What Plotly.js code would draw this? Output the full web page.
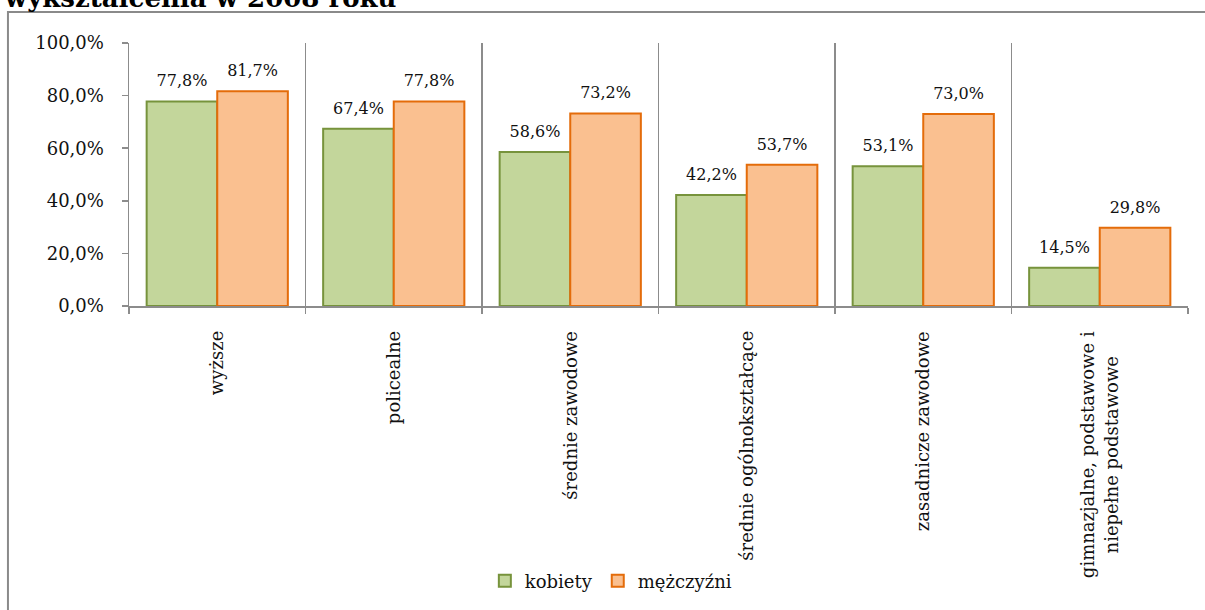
<!DOCTYPE html>
<html>
<head>
<meta charset="utf-8">
<script src="https://cdn.plot.ly/plotly-3.0.1.min.js"></script>
<style>
  html, body { margin: 0; padding: 0; background: #ffffff; }
  #chart { width: 1205px; height: 610px; }
</style>
</head>
<body>
<div id="chart"></div>
<script>
// Poziom wykształcenia (kategorie osi X)
const categories = [
  'wyższe',
  'policealne',
  'średnie zawodowe',
  'średnie ogólnokształcące',
  'zasadnicze zawodowe',
  'gimnazjalne, podstawowe i<br>niepełne podstawowe'
];

// Wartości w procentach
const kobiety = [77.8, 67.4, 58.6, 42.2, 53.1, 14.5];
const mezczyzni = [81.7, 77.8, 73.2, 53.7, 73.0, 29.8];

const seriesNames = ['kobiety', 'mężczyźni'];
const yTickValues = [0, 20, 40, 60, 80, 100];
const titleText = 'wykształcenia w 2008 roku';

const FONT = 'DejaVu Serif, Liberation Serif, serif';
const TEXT_COLOR = '#111111';
const AXIS_COLOR = '#8c8c8c';

// Format polski: przecinek dziesiętny i znak procentu
const pct = v => v.toFixed(1).replace('.', ',') + '%';
const yTickText = yTickValues.map(pct);

const styles = [
  { fill: '#C3D69B', edge: '#77933C' },
  { fill: '#FAC090', edge: '#E46C0A' }
];

const series = [kobiety, mezczyzni];

// Słupki
const barTraces = series.map((vals, i) => ({
  type: 'bar',
  name: seriesNames[i],
  x: categories,
  y: vals,
  marker: { color: styles[i].fill, line: { color: styles[i].edge, width: 2 } },
  hoverinfo: 'skip'
}));

// Etykiety wartości nad słupkami (niewidoczne znaczniki ustawiają odstęp)
const labelTraces = series.map((vals, i) => ({
  type: 'scatter',
  mode: 'markers+text',
  x: categories,
  y: vals,
  text: vals.map(pct),
  textposition: 'top center',
  textfont: { family: FONT, size: 16, color: TEXT_COLOR },
  marker: { size: 16, color: 'rgba(0,0,0,0)' },
  cliponaxis: false,
  showlegend: false,
  hoverinfo: 'skip'
}));

// Opisy kategorii pod osią
const categoryLabels = categories.map(c => ({
  xref: 'x', yref: 'paper',
  x: c, y: -0.087,
  xanchor: 'center', yanchor: 'top',
  text: c,
  textangle: -90,
  align: 'center',
  showarrow: false,
  font: { family: FONT, size: 18, color: TEXT_COLOR }
}));

const layout = {
  width: 1205,
  height: 610,
  margin: { l: 129, r: 17, t: 43, b: 303, pad: 0 },
  paper_bgcolor: '#ffffff',
  plot_bgcolor: '#ffffff',
  separators: ', ',
  showlegend: true,
  barmode: 'group',
  bargap: 0.2,
  bargroupgap: 0,
  scattermode: 'group',
  scattergap: 0.2,
  title: {
    text: '<b>' + titleText + '</b>',
    xref: 'container', yref: 'container',
    x: 0.004, xanchor: 'left',
    y: 0.989, yanchor: 'bottom',
    font: { family: FONT, size: 26, color: '#000000' }
  },
  font: { family: FONT, size: 18, color: TEXT_COLOR },
  xaxis: {
    type: 'category',
    tickson: 'boundaries',
    ticks: 'outside',
    ticklen: 6,
    tickwidth: 1.5,
    tickcolor: AXIS_COLOR,
    showticklabels: false,
    showgrid: true,
    gridcolor: AXIS_COLOR,
    gridwidth: 1.5,
    showline: true,
    linecolor: AXIS_COLOR,
    linewidth: 1.5,
    zeroline: false,
    fixedrange: true
  },
  yaxis: {
    range: [0, 100],
    tickmode: 'array',
    tickvals: yTickValues,
    ticktext: yTickText,
    ticks: 'outside',
    ticklen: 6,
    tickwidth: 1.5,
    tickcolor: AXIS_COLOR,
    ticklabelstandoff: 14,
    tickfont: { family: FONT, size: 18, color: TEXT_COLOR },
    showgrid: false,
    showline: true,
    linecolor: AXIS_COLOR,
    linewidth: 1.5,
    zeroline: false,
    fixedrange: true
  },
  legend: {
    orientation: 'h',
    x: 0.455, xanchor: 'center',
    y: -1.038, yanchor: 'middle',
    font: { family: FONT, size: 18, color: TEXT_COLOR },
    bgcolor: 'rgba(0,0,0,0)',
    itemwidth: 30,
    traceorder: 'normal'
  },
  annotations: categoryLabels,
  shapes: [{
    type: 'rect', xref: 'paper', yref: 'paper', layer: 'below',
    x0: -0.1143, x1: 1.03, y0: -1.2, y1: 1.1174,
    line: { color: '#8a8a8a', width: 2 },
    fillcolor: 'rgba(0,0,0,0)'
  }]
};

Plotly.newPlot('chart', barTraces.concat(labelTraces), layout, { staticPlot: true, displayModeBar: false });
</script>
</body>
</html>
